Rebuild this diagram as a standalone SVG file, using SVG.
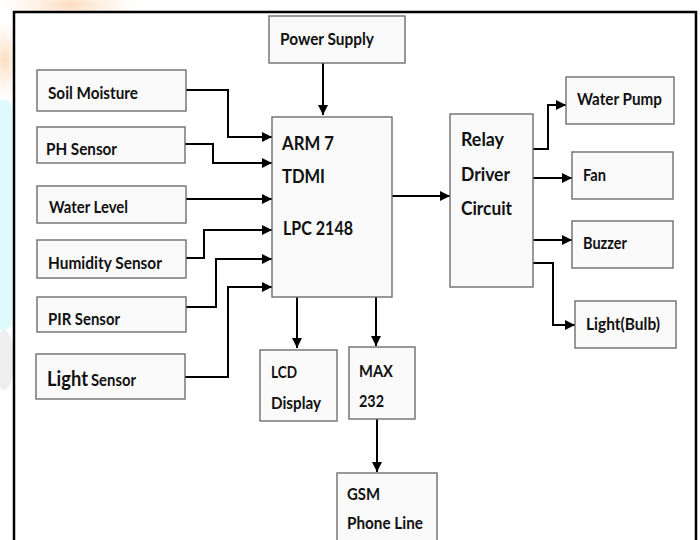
<svg xmlns="http://www.w3.org/2000/svg" width="700" height="540" viewBox="0 0 700 540">
<defs>
<style>
.box{fill:#fafafa;stroke:#6e6e6e;stroke-width:1.4}
.t{font-family:Lato,"Liberation Sans",sans-serif;font-weight:bold;font-size:17px;fill:#111}
.tb{font-family:Lato,"Liberation Sans",sans-serif;font-weight:bold;font-size:19.5px;fill:#111}
.w{fill:none;stroke:#000;stroke-width:2}
</style>
<marker id="ah" viewBox="0 0 10 10" refX="10" refY="5" markerWidth="10" markerHeight="10" markerUnits="userSpaceOnUse" orient="auto">
<path d="M0,0 L10,5 L0,10 z" fill="#000"/>
</marker>
<radialGradient id="og" cx="0.5" cy="0.5" r="0.5">
<stop offset="0" stop-color="#fcd9b8" stop-opacity="0.9"/>
<stop offset="1" stop-color="#fde9d8" stop-opacity="0"/>
</radialGradient>
</defs>
<rect width="700" height="540" fill="#fff"/>
<g id="background">
<ellipse cx="70" cy="5" rx="70" ry="22" fill="url(#og)"/>
<ellipse cx="5" cy="60" rx="18" ry="40" fill="url(#og)"/>
<rect x="-10" y="100" width="22" height="230" rx="8" fill="#dffafd"/>
<ellipse cx="4" cy="360" rx="10" ry="30" fill="#eeeeee"/>
</g>
<rect id="frame" x="14" y="12" width="682" height="540" fill="#fff" stroke="#000" stroke-width="2.5"/>
<g id="connectors">
<path class="w" d="M323,63 V115" marker-end="url(#ah)"/>
<path class="w" d="M186,90 H228 V137 H272" marker-end="url(#ah)"/>
<path class="w" d="M185,144 H213 V163 H272" marker-end="url(#ah)"/>
<path class="w" d="M186,199 H272" marker-end="url(#ah)"/>
<path class="w" d="M186,258 H204 V230 H272" marker-end="url(#ah)"/>
<path class="w" d="M186,307 H216 V259 H272" marker-end="url(#ah)"/>
<path class="w" d="M185,377 H228 V287 H272" marker-end="url(#ah)"/>
<path class="w" d="M392,196 H450" marker-end="url(#ah)"/>
<path class="w" d="M297,297 V348" marker-end="url(#ah)"/>
<path class="w" d="M376,297 V346" marker-end="url(#ah)"/>
<path class="w" d="M377,419 V472" marker-end="url(#ah)"/>
<path class="w" d="M533,149 H548 V105 H566" marker-end="url(#ah)"/>
<path class="w" d="M533,178 H572" marker-end="url(#ah)"/>
<path class="w" d="M533,240 H572" marker-end="url(#ah)"/>
<path class="w" d="M533,263 H553 V325 H575" marker-end="url(#ah)"/>
</g>
<g id="power"><rect class="box" x="269" y="16" width="136" height="47"/><text class="t" x="280" y="45" textLength="94" lengthAdjust="spacingAndGlyphs">Power Supply</text></g>
<g id="soil"><rect class="box" x="37" y="70" width="149" height="41"/><text class="t" x="48" y="99" textLength="90" lengthAdjust="spacingAndGlyphs">Soil Moisture</text></g>
<g id="ph"><rect class="box" x="37" y="127" width="148" height="36"/><text class="t" x="46" y="155" textLength="71" lengthAdjust="spacingAndGlyphs">PH Sensor</text></g>
<g id="water"><rect class="box" x="37" y="186" width="149" height="37"/><text class="t" x="49" y="213" textLength="79" lengthAdjust="spacingAndGlyphs">Water Level</text></g>
<g id="humidity"><rect class="box" x="37" y="240" width="149" height="38"/><text class="t" x="48" y="269" textLength="114" lengthAdjust="spacingAndGlyphs">Humidity Sensor</text></g>
<g id="pir"><rect class="box" x="37" y="297" width="149" height="35"/><text class="t" x="48" y="325" textLength="72" lengthAdjust="spacingAndGlyphs">PIR Sensor</text></g>
<g id="light"><rect class="box" x="36" y="354" width="149" height="45"/><text class="t" y="386"><tspan x="47" font-size="21px" textLength="41" lengthAdjust="spacingAndGlyphs">Light</tspan><tspan x="91" textLength="45" lengthAdjust="spacingAndGlyphs">Sensor</tspan></text></g>
<g id="arm"><rect class="box" x="272" y="117" width="120" height="180"/><text class="tb" x="282" y="150" textLength="52" lengthAdjust="spacingAndGlyphs">ARM 7</text><text class="tb" x="282" y="183" textLength="43" lengthAdjust="spacingAndGlyphs">TDMI</text><text class="tb" x="283" y="235" textLength="70" lengthAdjust="spacingAndGlyphs">LPC 2148</text></g>
<g id="relay"><rect class="box" x="450" y="114" width="83" height="173"/><text class="tb" x="461" y="146" textLength="43" lengthAdjust="spacingAndGlyphs">Relay</text><text class="tb" x="461" y="181" textLength="49" lengthAdjust="spacingAndGlyphs">Driver</text><text class="tb" x="461" y="215" textLength="51" lengthAdjust="spacingAndGlyphs">Circuit</text></g>
<g id="pump"><rect class="box" x="566" y="77" width="108" height="47"/><text class="t" x="577" y="105" textLength="85" lengthAdjust="spacingAndGlyphs">Water Pump</text></g>
<g id="fan"><rect class="box" x="572" y="152" width="101" height="47"/><text class="t" x="583" y="181" textLength="23" lengthAdjust="spacingAndGlyphs">Fan</text></g>
<g id="buzzer"><rect class="box" x="572" y="221" width="101" height="47"/><text class="t" x="583" y="249" textLength="44" lengthAdjust="spacingAndGlyphs">Buzzer</text></g>
<g id="bulb"><rect class="box" x="575" y="301" width="101" height="47"/><text class="t" x="586" y="330" textLength="74" lengthAdjust="spacingAndGlyphs">Light(Bulb)</text></g>
<g id="lcd"><rect class="box" x="260" y="350" width="77" height="71"/><text class="t" x="271" y="378" textLength="26" lengthAdjust="spacingAndGlyphs">LCD</text><text class="t" x="271" y="409" textLength="50" lengthAdjust="spacingAndGlyphs">Display</text></g>
<g id="max"><rect class="box" x="349" y="347" width="66" height="72"/><text class="t" x="359" y="377" textLength="34" lengthAdjust="spacingAndGlyphs">MAX</text><text class="t" x="359" y="407" textLength="25" lengthAdjust="spacingAndGlyphs">232</text></g>
<g id="gsm"><rect class="box" x="337" y="473" width="100" height="80"/><text class="t" x="347" y="500" textLength="33" lengthAdjust="spacingAndGlyphs">GSM</text><text class="t" x="347" y="529" textLength="76" lengthAdjust="spacingAndGlyphs">Phone Line</text></g>
</svg>
